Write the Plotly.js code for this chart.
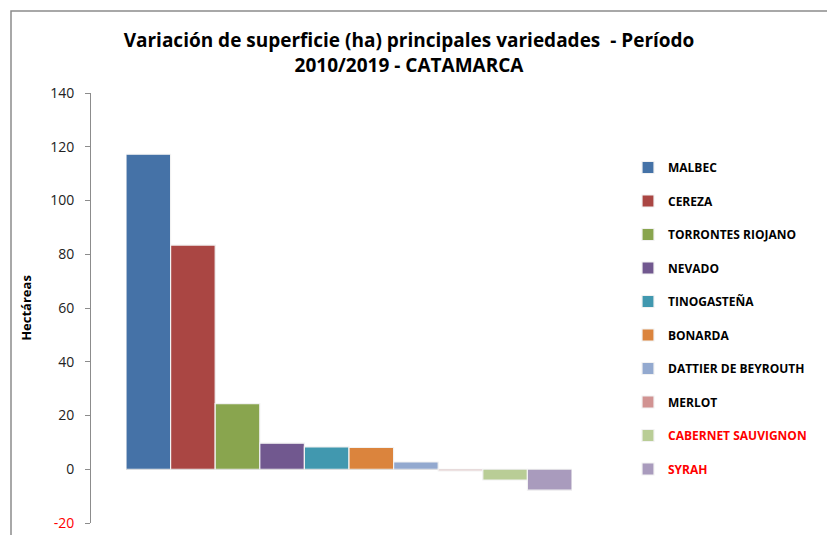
<!DOCTYPE html>
<html><head><meta charset="utf-8">
<script src="https://cdn.plot.ly/plotly-3.0.1.min.js"></script>
<style>html,body{margin:0;padding:0;background:#fff;}#chart{width:827px;height:535px;}</style>
</head><body><div id="chart"></div>
<script>
const varieties = ["MALBEC","CEREZA","TORRONTES RIOJANO","NEVADO","TINOGASTEÑA","BONARDA","DATTIER DE BEYROUTH","MERLOT","CABERNET SAUVIGNON","SYRAH"];
const values = [117.2, 83.4, 24.4, 9.7, 8.3, 8.1, 2.7, -0.6, -4.0, -7.8];
const colors = ["#4572A7","#AA4643","#89A54E","#71588F","#4198AF","#DB843D","#93A9CF","#D19392","#B9CD96","#A99BBD"];
const legendRed = ["CABERNET SAUVIGNON","SYRAH"];
const yTicks = [-20,0,20,40,60,80,100,120,140];
const yTickText = yTicks.map(v => v < 0 ? '<span style="color:#FF0000">' + v + '</span>' : String(v));
const category = ["Variedades"];

const W = 827, H = 535;
const L = 90, R = 220, T = 93, B = 12;
const pw = W - L - R, ph = H - T - B;
const px = x => (x - L) / pw;
const py = y => (H - B - y) / ph;

const traces = varieties.map((v, i) => ({
  type: 'bar',
  name: legendRed.includes(v) ? '<b><span style="color:#FF0000">' + v + '</span></b>' : '<b>' + v + '</b>',
  x: category,
  y: [values[i]],
  marker: {color: colors[i], line: {color: '#F2F2F2', width: 1.2}},
  legendgroup: 'g' + i,
  hoverinfo: 'y+name'
}));

const layout = {
  width: W, height: H,
  margin: {l: L, r: R, t: T, b: B},
  paper_bgcolor: '#FFFFFF', plot_bgcolor: 'rgba(0,0,0,0)',
  font: {family: '"Open Sans", sans-serif', size: 13, color: '#000'},
  title: {
    text: '<b>Variación de superficie (ha) principales variedades  - Período<br>2010/2019 - CATAMARCA</b>',
    x: px(409), xref: 'paper', xanchor: 'center',
    yref: 'container', y: 1 - 47 / H, yanchor: 'middle',
    font: {size: 19, color: '#000', family: '"Open Sans", sans-serif'}
  },
  barmode: 'group', bargap: 0, bargroupgap: 0,
  xaxis: {
    domain: [px(126), px(572)],
    showticklabels: false, showgrid: false, showline: false, zeroline: false, ticks: ''
  },
  yaxis: {
    range: [-20, 140], anchor: 'free', position: 0,
    tickvals: yTicks, ticktext: yTickText,
    showgrid: false, showline: true, linecolor: '#8C8C8C', linewidth: 1,
    ticks: 'outside', ticklen: 5, tickcolor: '#8C8C8C', ticklabelstandoff: 8,
    zeroline: true, zerolinecolor: '#A0A0A0', zerolinewidth: 1,
    tickfont: {size: 14, color: '#222', family: '"Open Sans", sans-serif'},
    title: {text: '<b>Hectáreas</b>', font: {size: 13, family: '"Open Sans", sans-serif'}, standoff: 14}
  },
  legend: {
    x: px(628), xanchor: 'left', y: py(153), yanchor: 'top',
    font: {size: 12, family: '"Open Sans", sans-serif', color: '#000'},
    traceorder: 'grouped', tracegroupgap: 14.5,
    itemwidth: 30, bgcolor: 'rgba(0,0,0,0)'
  },
  shapes: [{
    type: 'rect', xref: 'paper', yref: 'paper',
    x0: px(11), x1: px(900), y0: py(600), y1: py(11),
    line: {color: '#8C8C8C', width: 1.5}, fillcolor: 'rgba(0,0,0,0)', layer: 'below'
  }],
  showlegend: true
};

Plotly.newPlot('chart', traces, layout, {displayModeBar: false, staticPlot: true});
</script></body></html>
